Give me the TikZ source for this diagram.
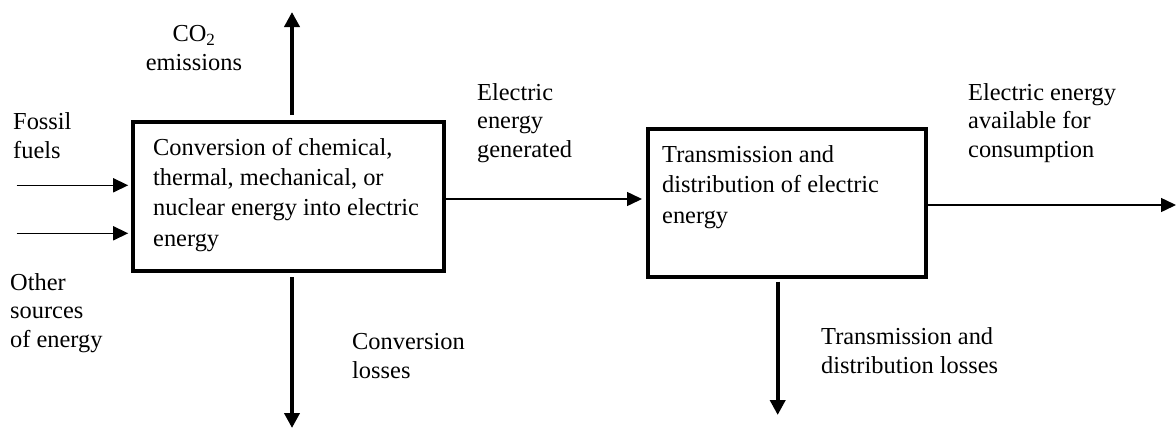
\documentclass[tikz,border=0pt]{standalone}
\usepackage{fontspec}
\setmainfont{Liberation Serif}
\usetikzlibrary{arrows.meta}
\begin{document}
\begin{tikzpicture}[x=1pt,y=-1pt,
  procbox/.style={draw=black,line width=4pt,minimum width=#1,inner sep=0pt},
  lbl/.style={font=\fontsize{24.4}{28.5}\selectfont,align=left,inner sep=0pt,anchor=base west},
  boxtext/.style={font=\fontsize{24.4}{30.3}\selectfont,align=left,inner sep=0pt,anchor=base west},
  thinarrow/.style={line width=1.5pt,-{Triangle[length=15pt,width=14pt]}},
  bigarrow/.style={line width=3.8pt,-{Triangle[length=15pt,width=15pt]}}
]
\useasboundingbox (0,0) rectangle (1176,429);
\fill[white] (0,0) rectangle (1176,429);
% boxes
\node[procbox=311.3pt,minimum height=149pt] (box1) at (288.35,196) {};
\node[procbox=277.5pt,minimum height=147.5pt] (box2) at (786.75,202.75) {};
% box texts (anchor at baseline of the last line)
\node[boxtext] (t1) at (153,246) {Conversion of chemical,\\thermal, mechanical, or\\nuclear energy into electric\\energy};
\node[boxtext] (t2) at (662,223) {Transmission and\\distribution of electric\\energy};
% labels
\node[lbl,align=center,anchor=base] (co2) at (194,70) {CO\textsubscript{2}\\emissions};
\node[lbl] (fossil) at (13,158) {Fossil\\fuels};
\node[lbl] (other) at (10,347) {Other\\sources\\of energy};
\node[lbl] (convloss) at (352,378) {Conversion\\losses};
\node[lbl] (gen) at (477,157) {Electric\\energy\\generated};
\node[lbl] (avail) at (968,157) {Electric energy\\available for\\consumption};
\node[lbl] (tdloss) at (821,373) {Transmission and\\distribution losses};
% free ends
\coordinate (in1) at (16.7,185.3);
\coordinate (in2) at (16.7,233.3);
\coordinate (co2end) at (292,12);
\coordinate (lossend) at (292,428);
\coordinate (gy) at (0,199);
\coordinate (outend) at (1176,205);
\coordinate (tdend) at (777.7,415);
% connectors
\draw[thinarrow,shorten >=2.5pt] (in1) -- (in1 -| box1.west);
\draw[thinarrow,shorten >=2.5pt] (in2) -- (in2 -| box1.west);
\draw[bigarrow,shorten <=4.5pt] (box1.north -| co2end) -- (co2end);
\draw[bigarrow,shorten <=4.5pt] (box1.south -| lossend) -- (lossend);
\draw[thinarrow,shorten >=4pt] (box1.east |- gy) -- (box2.west |- gy);
\draw[thinarrow] (box2.east |- outend) -- (outend);
\draw[bigarrow,shorten <=3pt] (box2.south -| tdend) -- (tdend);
\end{tikzpicture}
\end{document}
